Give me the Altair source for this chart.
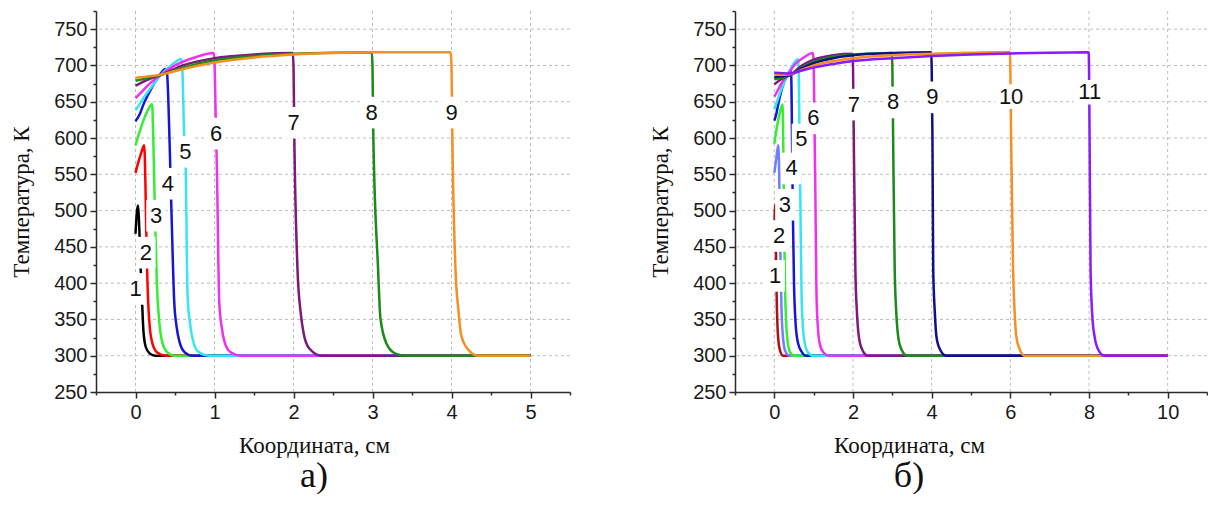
import altair as alt
import pandas as pd

# ---------------- Panel а) : temperature profiles (x in cm, T in K) ----------------
A1_X = [0, 0.03, 0.05, 0.065, 0.085, 0.1, 0.13, 0.18, 0.25, 0.35, 5.0]
A1_T = [468, 507, 470, 421, 370, 335, 312, 303, 300, 300, 300]
A2_X = [0, 0.04, 0.08, 0.11, 0.125, 0.14, 0.16, 0.18, 0.22, 0.28, 0.38, 5.0]
A2_T = [552, 568, 582, 590, 540, 450, 375, 340, 315, 304, 300, 300]
A3_X = [0, 0.05, 0.1, 0.15, 0.21, 0.225, 0.245, 0.27, 0.30, 0.34, 0.40, 0.5, 5.0]
A3_T = [590, 608, 624, 637, 647, 600, 500, 400, 348, 318, 305, 300, 300]
A4_X = [0, 0.05, 0.1, 0.2, 0.3, 0.38, 0.40, 0.43, 0.455, 0.49, 0.52, 0.56, 0.62, 0.72, 5.0]
A4_T = [623, 632, 646, 668, 686, 695, 688, 600, 500, 375, 340, 318, 305, 300, 300]
A5_X = [0, 0.1, 0.2, 0.33, 0.45, 0.58, 0.595, 0.615, 0.635, 0.66, 0.69, 0.73, 0.8, 0.93, 5.0]
A5_T = [638, 655, 670, 688, 700, 709, 690, 606, 559, 380, 345, 320, 305, 300, 300]
A6_X = [0, 0.1, 0.2, 0.35, 0.5, 0.75, 0.99, 1.0, 1.015, 1.03, 1.06, 1.09, 1.13, 1.2, 1.33, 5.0]
A6_T = [655, 666, 677, 689, 700, 711, 717, 705, 631, 560, 375, 340, 318, 305, 300, 300]
A7_X = [0, 0.15, 0.35, 0.6, 1.0, 1.5, 1.99, 2.0, 2.01, 2.05, 2.09, 2.13, 2.2, 2.36, 5.0]
A7_T = [672, 680, 688, 700, 710, 715, 717, 700, 606, 421, 360, 330, 310, 300, 300]
A8_X = [0, 0.35, 0.6, 1.0, 1.5, 2.0, 2.5, 2.99, 3.0, 3.01, 3.07, 3.10, 3.18, 3.29, 3.42, 5.0]
A8_T = [679, 688, 697, 707, 713, 716, 717.5, 718, 700, 606, 421, 352, 316, 303, 300, 300]
A9_X = [0, 0.35, 0.6, 1.0, 1.5, 2.0, 2.5, 3.0, 3.99, 4.0, 4.01, 4.05, 4.09, 4.12, 4.2, 4.34, 5.0]
A9_T = [683, 688, 695, 704, 711, 715, 717, 718, 718, 700, 606, 421, 360, 330, 310, 300, 300]

A_LABELS = ["1", "2", "3", "4", "5", "6", "7", "8", "9"]
A_LAB_X = [0.0, 0.13, 0.26, 0.41, 0.63, 1.02, 2.0, 2.99, 4.0]
A_LAB_T = [392, 442, 493, 537, 581, 606, 621, 635, 635]
A_COLORS = ["#000000", "#ff0000", "#33ee33", "#1515d8", "#33e6f0",
            "#f030f0", "#7a1a7a", "#1a8a1a", "#f59020"]

# ---------------- Panel б) ----------------
B1_X = [0, 0.02, 0.04, 0.06, 0.09, 0.14, 0.22, 10.0]
B1_T = [470, 508, 450, 380, 330, 308, 300, 300]
B2_X = [0, 0.05, 0.1, 0.12, 0.15, 0.18, 0.22, 0.28, 0.38, 10.0]
B2_T = [552, 572, 590, 560, 450, 370, 325, 306, 300, 300]
B3_X = [0, 0.05, 0.1, 0.15, 0.21, 0.225, 0.245, 0.27, 0.30, 0.34, 0.40, 0.5, 10.0]
B3_T = [592, 610, 625, 637, 646, 600, 500, 400, 348, 318, 305, 300, 300]
B4_X = [0, 0.05, 0.1, 0.2, 0.3, 0.41, 0.43, 0.45, 0.47, 0.50, 0.54, 0.6, 0.7, 0.8, 10.0]
B4_T = [624, 633, 647, 669, 684, 693, 685, 600, 500, 400, 345, 318, 305, 300, 300]
B5_X = [0, 0.1, 0.2, 0.33, 0.45, 0.6, 0.62, 0.64, 0.66, 0.69, 0.72, 0.77, 0.85, 0.98, 10.0]
B5_T = [640, 655, 670, 686, 699, 709, 695, 600, 520, 390, 345, 318, 305, 300, 300]
B6_X = [0, 0.1, 0.2, 0.35, 0.5, 0.75, 0.98, 1.0, 1.02, 1.04, 1.07, 1.1, 1.15, 1.24, 1.38, 10.0]
B6_T = [657, 667, 677, 688, 700, 711, 717, 705, 620, 540, 390, 345, 318, 305, 300, 300]
B7_X = [0, 0.2, 0.41, 0.7, 1.0, 1.5, 1.99, 2.0, 2.02, 2.06, 2.1, 2.14, 2.22, 2.38, 10.0]
B7_T = [674, 682, 687, 700, 708, 714, 716, 700, 600, 420, 360, 330, 310, 300, 300]
B8_X = [0, 0.41, 0.7, 1.0, 1.5, 2.0, 2.5, 2.99, 3.0, 3.02, 3.06, 3.1, 3.14, 3.22, 3.38, 10.0]
B8_T = [681, 687, 697, 705, 712, 715, 716.5, 717, 700, 600, 420, 360, 330, 310, 300, 300]
B9_X = [0, 0.41, 0.7, 1.0, 1.5, 2.0, 3.0, 3.99, 4.0, 4.02, 4.04, 4.08, 4.12, 4.2, 4.37, 10.0]
B9_T = [684, 687, 696, 703, 710, 714, 717, 718, 700, 600, 418, 360, 327, 310, 300, 300]
B10_X = [0, 0.41, 0.7, 1.0, 1.5, 2.0, 3.0, 4.0, 5.0, 5.99, 6.0, 6.02, 6.07, 6.11, 6.15, 6.23, 6.36, 10.0]
B10_T = [687, 688, 694, 700, 706, 710, 714, 716, 717.5, 718.5, 700, 600, 418, 360, 327, 310, 300, 300]
B11_X = [0, 0.41, 0.7, 1.0, 1.5, 2.0, 3.0, 4.0, 5.0, 6.0, 7.0, 7.99, 8.0, 8.015, 8.04, 8.09, 8.14, 8.22, 8.39, 10.0]
B11_T = [690, 689, 693, 697, 702, 706, 710, 713, 715, 716.5, 717.5, 718, 700, 600, 418, 350, 327, 310, 300, 300]

B_LABELS = ["1", "2", "3", "4", "5", "6", "7", "8", "9", "10", "11"]
B_LAB_X = [0.02, 0.12, 0.27, 0.44, 0.69, 0.99, 2.02, 3.02, 4.02, 6.02, 8.02]
B_LAB_T = [410, 465, 508, 558, 598, 627, 646, 649, 656, 657, 663]
B_COLORS = ["#b01010", "#6f7fff", "#33ee33", "#1515d8", "#33e6f0", "#f030f0",
            "#7a1a7a", "#1a8a1a", "#10108a", "#f59020", "#8a1aff"]

A_CURVES = [(A1_X, A1_T), (A2_X, A2_T), (A3_X, A3_T), (A4_X, A4_T), (A5_X, A5_T),
            (A6_X, A6_T), (A7_X, A7_T), (A8_X, A8_T), (A9_X, A9_T)]
B_CURVES = [(B1_X, B1_T), (B2_X, B2_T), (B3_X, B3_T), (B4_X, B4_T), (B5_X, B5_T),
            (B6_X, B6_T), (B7_X, B7_T), (B8_X, B8_T), (B9_X, B9_T), (B10_X, B10_T),
            (B11_X, B11_T)]

# axis tick values
A_X_MAJOR = [0, 1, 2, 3, 4, 5]
A_X_MINOR = [-0.5, 0.5, 1.5, 2.5, 3.5, 4.5, 5.5]
B_X_MAJOR = [0, 2, 4, 6, 8, 10]
B_X_MINOR = [-1, 1, 3, 5, 7, 9, 11]
Y_MAJOR = [250, 300, 350, 400, 450, 500, 550, 600, 650, 700, 750]
Y_MINOR = [275, 325, 375, 425, 475, 525, 575, 625, 675, 725, 775]
Y_GRID = [300, 350, 400, 450, 500, 550, 600, 650, 700, 750]

AX = dict(tickColor="#2a2a2a", tickWidth=1.5, domainColor="#2a2a2a", domainWidth=1.5,
          labelFont="Liberation Sans", labelFontSize=20, labelColor="#1a1a1a",
          titleFont="Liberation Serif", titleFontSize=23, titleFontWeight="normal",
          titleColor="#111111")

BOX_NARROW = "M-0.62,-1L0.62,-1L0.62,1L-0.62,1Z"
BOX_WIDE = "M-1,-0.78L1,-0.78L1,0.78L-1,0.78Z"


def panel(curves, colors, labels, lab_x, lab_t, xdom, xmajor, xminor, title_x, plabel, pdx, width):
    xs = alt.Scale(domain=xdom, nice=False, zero=False)
    ys = alt.Scale(domain=[250, 775], nice=False, zero=False)
    ldf = pd.DataFrame({"x": lab_x, "T": lab_t, "lab": labels})

    gx = alt.Chart(pd.DataFrame({"x": xmajor})).mark_rule(
        color="#bdbdbd", strokeWidth=1, strokeDash=[3, 3]).encode(
        x=alt.X("x:Q", scale=xs, axis=None))
    gy = alt.Chart(pd.DataFrame({"T": Y_GRID})).mark_rule(
        color="#bdbdbd", strokeWidth=1, strokeDash=[3, 3]).encode(
        y=alt.Y("T:Q", scale=ys, axis=None))

    major = alt.Chart(ldf).mark_point(opacity=0).encode(
        x=alt.X("x:Q", scale=xs, axis=alt.Axis(
            orient="bottom", values=xmajor, title="Координата, см", tickSize=6,
            labelPadding=4, titlePadding=12, titleX=title_x, format="d", grid=False, **AX)),
        y=alt.Y("T:Q", scale=ys, axis=alt.Axis(
            orient="left", values=Y_MAJOR, title="Температура, К", tickSize=6,
            labelPadding=3, titlePadding=20, format="d", grid=False, **AX)),
    )
    minor = alt.Chart(ldf).mark_point(opacity=0).encode(
        x=alt.X("x:Q", scale=xs, axis=alt.Axis(
            orient="bottom", values=xminor, labels=False, grid=False, domain=False,
            tickSize=3, tickColor="#2a2a2a", tickWidth=1.5, title=None)),
        y=alt.Y("T:Q", scale=ys, axis=alt.Axis(
            orient="left", values=Y_MINOR, labels=False, grid=False, domain=False,
            tickSize=3, tickColor="#2a2a2a", tickWidth=1.5, title=None)),
    )
    layers = [gx, gy, major, minor]
    for (xv, tv), c in zip(curves, colors):
        df = pd.DataFrame({"x": xv, "T": tv})
        layers.append(alt.Chart(df).mark_line(
            color=c, strokeWidth=2.5, interpolate="monotone").encode(
            x=alt.X("x:Q", scale=xs, axis=None),
            y=alt.Y("T:Q", scale=ys, axis=None)))
    narrow = ldf[ldf["lab"].str.len() == 1]
    wide = ldf[ldf["lab"].str.len() > 1]
    layers.append(alt.Chart(narrow).mark_point(
        shape=BOX_NARROW, filled=True, color="white", opacity=1, size=1000, strokeWidth=0).encode(
        x=alt.X("x:Q", scale=xs, axis=None), y=alt.Y("T:Q", scale=ys, axis=None)))
    if len(wide):
        layers.append(alt.Chart(wide).mark_point(
            shape=BOX_WIDE, filled=True, color="white", opacity=1, size=1000, strokeWidth=0).encode(
            x=alt.X("x:Q", scale=xs, axis=None), y=alt.Y("T:Q", scale=ys, axis=None)))
    layers.append(alt.Chart(ldf).mark_text(
        font="Liberation Sans", fontSize=22, color="#111111", align="center",
        baseline="middle").encode(
        x=alt.X("x:Q", scale=xs, axis=None), y=alt.Y("T:Q", scale=ys, axis=None),
        text="lab:N"))
    return alt.layer(*layers).resolve_axis(x="independent", y="independent").properties(
        width=width, height=381,
        title=alt.TitleParams(text=plabel, orient="bottom", anchor="middle", frame="group",
                              font="Liberation Serif", fontSize=36, fontWeight="normal",
                              color="#111111", offset=2, dx=pdx))


left = panel(A_CURVES, A_COLORS, A_LABELS, A_LAB_X, A_LAB_T, [-0.5, 5.5],
             A_X_MAJOR, A_X_MINOR, 218, "а)", -19, 474)
right = panel(B_CURVES, B_COLORS, B_LABELS, B_LAB_X, B_LAB_T, [-1, 11],
              B_X_MAJOR, B_X_MINOR, 174, "б)", -62, 472)

chart = alt.hconcat(left, right, spacing=78).properties(
    padding={"left": 10, "top": 10, "right": 0, "bottom": 0},
    background="white",
).configure_view(stroke=None)

chart.save("out.html", embed_options={"renderer": "svg", "actions": False})
